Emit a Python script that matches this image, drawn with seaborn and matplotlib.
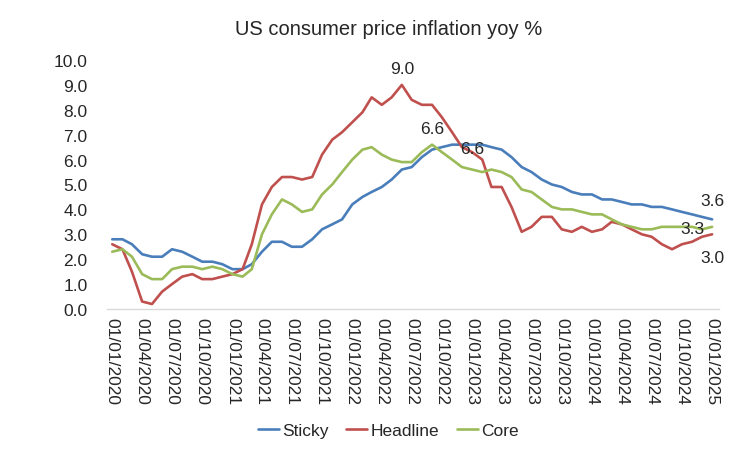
import pandas as pd
import matplotlib.pyplot as plt
import matplotlib.dates as mdates
import numpy as np
import seaborn as sns

# monthly, Jan 2020 .. Jan 2025
months = pd.date_range("2020-01-01", "2025-01-01", freq="MS")

sticky = [2.8, 2.8, 2.6, 2.2, 2.1, 2.1, 2.4, 2.3, 2.1, 1.9, 1.9, 1.8,
          1.6, 1.6, 1.8, 2.3, 2.7, 2.7, 2.5, 2.5, 2.8, 3.2, 3.4, 3.6,
          4.2, 4.5, 4.7, 4.9, 5.2, 5.6, 5.7, 6.1, 6.4, 6.5, 6.6, 6.6,
          6.6, 6.6, 6.5, 6.4, 6.1, 5.7, 5.5, 5.2, 5.0, 4.9, 4.7, 4.6,
          4.6, 4.4, 4.4, 4.3, 4.2, 4.2, 4.1, 4.1, 4.0, 3.9, 3.8, 3.7,
          3.6]
headline = [2.6, 2.4, 1.5, 0.3, 0.2, 0.7, 1.0, 1.3, 1.4, 1.2, 1.2, 1.3,
            1.4, 1.6, 2.6, 4.2, 4.9, 5.3, 5.3, 5.2, 5.3, 6.2, 6.8, 7.1,
            7.5, 7.9, 8.5, 8.2, 8.5, 9.0, 8.4, 8.2, 8.2, 7.7, 7.1, 6.5,
            6.3, 6.0, 4.9, 4.9, 4.1, 3.1, 3.3, 3.7, 3.7, 3.2, 3.1, 3.3,
            3.1, 3.2, 3.5, 3.4, 3.2, 3.0, 2.9, 2.6, 2.4, 2.6, 2.7, 2.9,
            3.0]
core = [2.3, 2.4, 2.1, 1.4, 1.2, 1.2, 1.6, 1.7, 1.7, 1.6, 1.7, 1.6,
        1.4, 1.3, 1.6, 3.0, 3.8, 4.4, 4.2, 3.9, 4.0, 4.6, 5.0, 5.5,
        6.0, 6.4, 6.5, 6.2, 6.0, 5.9, 5.9, 6.3, 6.6, 6.3, 6.0, 5.7,
        5.6, 5.5, 5.6, 5.5, 5.3, 4.8, 4.7, 4.4, 4.1, 4.0, 4.0, 3.9,
        3.8, 3.8, 3.6, 3.4, 3.3, 3.2, 3.2, 3.3, 3.3, 3.3, 3.3, 3.2,
        3.3]

series_names = ["Sticky", "Headline", "Core"]
colours = ["#4A7EBB", "#C0504D", "#9BBB59"]

df = pd.DataFrame({"Date": months, "Sticky": sticky,
                   "Headline": headline, "Core": core})
long_df = df.melt(id_vars="Date", var_name="Series", value_name="Value")

sns.set_style("white")
plt.rcParams['font.family'] = ['Liberation Sans', 'DejaVu Sans']

fig = plt.figure(figsize=(7.48, 4.52), dpi=100)
ax = fig.add_axes([107 / 748, 1 - 310 / 452, 612 / 748, 249 / 452])

sns.lineplot(data=long_df, x="Date", y="Value", hue="Series",
             hue_order=series_names, palette=colours, linewidth=1.9, ax=ax)

ax.set_ylim(0, 10)
ax.set_yticks(np.arange(0, 10.5, 1.0))
ax.yaxis.set_major_formatter(plt.FormatStrFormatter("%.1f"))
ax.set_xlim(pd.Timestamp("2019-12-16"), pd.Timestamp("2025-01-22"))
ax.set_xticks(months[::3])
ax.xaxis.set_major_formatter(mdates.DateFormatter("%d/%m/%Y"))
ax.tick_params(axis="x", labelrotation=-90, labelsize=12.5, length=0, pad=6)
ax.tick_params(axis="y", labelsize=12.5, length=0, pad=14)
for lab in ax.get_xticklabels():
    lab.set_verticalalignment("top")
ax.set_xlabel("")
ax.set_ylabel("")

for side in ["top", "right", "left"]:
    ax.spines[side].set_visible(False)
ax.spines["bottom"].set_color("#D9D9D9")
ax.spines["bottom"].set_linewidth(1.0)

# data labels
peak = int(np.argmax(headline))
ax.text(months[peak], headline[peak] + 0.35, f"{headline[peak]:.1f}",
        ha="center", va="bottom", fontsize=12.5)
cpk = int(np.argmax(core))
ax.text(months[cpk], core[cpk] + 0.35, f"{core[cpk]:.1f}",
        ha="center", va="bottom", fontsize=12.5)
spk = 36
ax.text(months[spk], sticky[spk] - 0.15, f"{sticky[spk]:.1f}",
        ha="center", va="center", fontsize=12.5)
ax.text(months[-1], sticky[-1] + 0.45, f"{sticky[-1]:.1f}",
        ha="center", va="bottom", fontsize=12.5)
ax.text(months[-3], core[-1] - 0.05, f"{core[-1]:.1f}",
        ha="center", va="center", fontsize=12.5)
ax.text(months[-1], headline[-1] - 0.65, f"{headline[-1]:.1f}",
        ha="center", va="top", fontsize=12.5)

ax.legend(loc="upper center", bbox_to_anchor=(0.46, -0.395), ncol=3,
          frameon=False, fontsize=12.5, handlelength=1.2, handletextpad=0.2,
          columnspacing=1.0)

fig.suptitle("US consumer price inflation yoy %", x=0.52, y=0.955, fontsize=14.5)

fig.savefig("out.png", dpi=100)
